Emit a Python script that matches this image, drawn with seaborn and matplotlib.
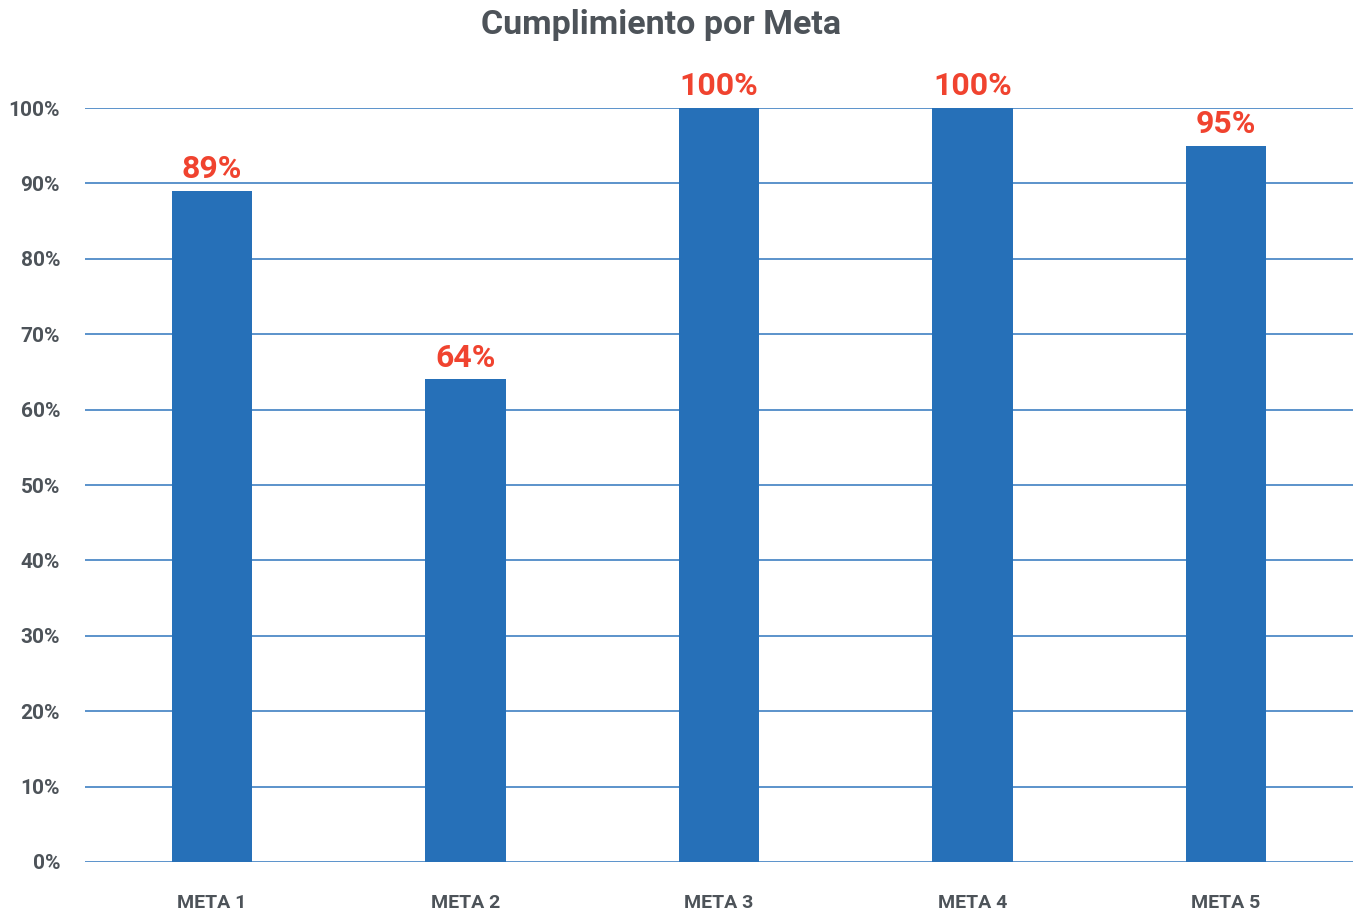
import matplotlib
matplotlib.use("Agg")
import matplotlib.pyplot as plt
import seaborn as sns
import pandas as pd

metas = ["META 1", "META 2", "META 3", "META 4", "META 5"]
cumplimiento = [89, 64, 100, 100, 95]
y_ticks = [0, 10, 20, 30, 40, 50, 60, 70, 80, 90, 100]

sns.set_style("white")
plt.rcParams['font.family'] = ['Roboto', 'DejaVu Sans']

gray = "#4d5359"
df = pd.DataFrame({"meta": metas, "valor": cumplimiento})

fig = plt.figure(figsize=(13.61, 9.14), dpi=100)
ax = fig.add_axes([0.0625, 0.0569, 0.9315, 0.8249])

for t in y_ticks:
    ax.axhline(t, color="#3f80c2", lw=1.2, zorder=0)

sns.barplot(data=df, x="meta", y="valor", color="#2670b8", saturation=1,
            width=0.317, linewidth=0, ax=ax, zorder=2)

for i, v in enumerate(cumplimiento):
    ax.text(i, v + 0.9, f"{v}%", ha="center", va="bottom", color="#f0432f",
            fontsize=23, fontweight="bold", clip_on=False)

ax.set_ylim(0, 100)
ax.set_xlim(-0.5, 4.5)
ax.set_yticks(y_ticks)
ax.set_yticklabels([f"{t}%" for t in y_ticks], fontsize=15, fontweight="bold", color=gray)
ax.set_xticks(range(len(metas)))
ax.set_xticklabels(metas, fontsize=14, fontweight="bold", color=gray)
ax.tick_params(axis="x", length=0, pad=23)
ax.tick_params(axis="y", length=0, pad=18)
ax.set_xlabel("")
ax.set_ylabel("")
sns.despine(ax=ax, left=True, bottom=True)

fig.suptitle("Cumplimiento por Meta", x=0.486, y=0.99, va="top", fontsize=24.5,
             fontweight="bold", color=gray)

fig.savefig("out.png", dpi=100)
